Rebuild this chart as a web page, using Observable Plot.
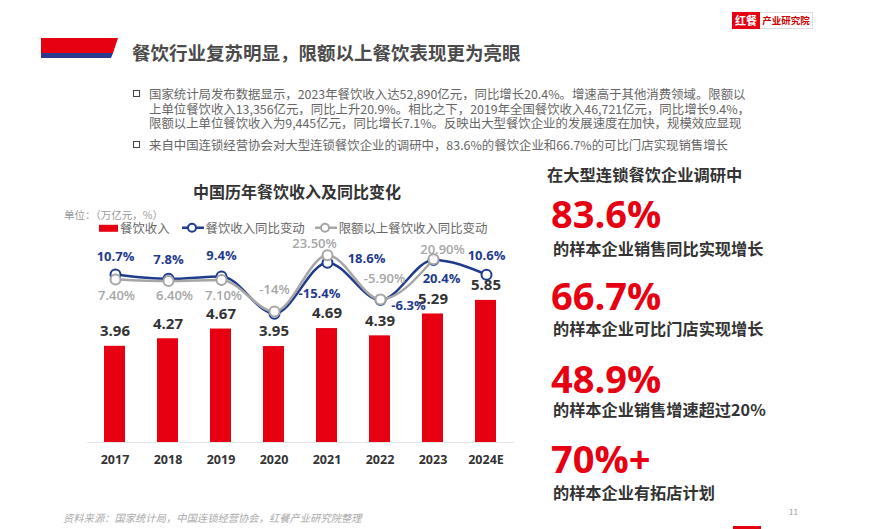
<!DOCTYPE html>
<html><head><meta charset="utf-8">
<script src="https://cdn.jsdelivr.net/npm/d3@7"></script>
<script src="https://cdn.jsdelivr.net/npm/@observablehq/plot@0.6"></script>
<style>
html,body{margin:0;padding:0;}
body{width:886px;height:529px;background:#fff;position:relative;overflow:hidden;font-family:"Noto Sans CJK SC","Noto Sans",sans-serif;}
.a{position:absolute;white-space:nowrap;line-height:1.2;transform:translateY(-50%);}
.title{left:132px;top:52px;font-size:18.5px;font-weight:700;color:#4a4a4a;}
.bul{position:absolute;width:5px;height:5px;border:1.6px solid #444;}
.txt{left:149px;font-size:12.4px;line-height:1;color:#666;}
.ctitle{left:193px;top:192px;font-size:16px;font-weight:700;color:#333;}
.unit{left:64px;top:215px;font-size:10.5px;line-height:1;color:#999;}
.leg{top:228px;font-size:12.4px;line-height:1;color:#666;}
.foot{left:63px;top:518px;font-size:10.3px;color:#aaa;font-style:italic;}
.rh{left:547px;top:175px;font-size:16.3px;font-weight:700;color:#333;}
.big{left:551px;font-family:"Open Sans",sans-serif;font-weight:700;font-size:38px;color:#e60012;line-height:0.8;}
.sub{left:553px;font-size:16.2px;font-weight:700;color:#333;line-height:1;}
#chart{position:absolute;left:60px;top:235px;width:460px;height:240px;}
#chart svg{position:absolute;left:0;top:0;}
</style></head><body>
<!-- logo -->
<div style="position:absolute;left:732px;top:12px;width:28px;height:17px;background:#e60012;color:#fff;font-size:11px;font-weight:700;text-align:center;line-height:17px;">红餐</div>
<div style="position:absolute;left:760px;top:12px;width:52px;height:15px;border:1px solid #ddd;border-left:none;color:#c00;font-size:9.5px;font-weight:700;text-align:center;line-height:15px;">产业研究院</div>
<!-- title decoration -->
<svg style="position:absolute;left:0;top:0" width="130" height="70">
<polygon points="41,38 118,38 113,53 41,53" fill="#e60012"/>
<polygon points="41,53 113,53 111,58 41,58" fill="#2b3a8f"/>
</svg>
<div class="a title">餐饮行业复苏明显，限额以上餐饮表现更为亮眼</div>
<div class="bul" style="left:133px;top:90px"></div>
<div class="a txt" style="top:94px">国家统计局发布数据显示，2023年餐饮收入达52,890亿元，同比增长20.4%。增速高于其他消费领域。限额以</div>
<div class="a txt" style="top:108.5px">上单位餐饮收入13,356亿元，同比上升20.9%。相比之下，2019年全国餐饮收入46,721亿元，同比增长9.4%，</div>
<div class="a txt" style="top:123px">限额以上单位餐饮收入为9,445亿元，同比增长7.1%。反映出大型餐饮企业的发展速度在加快，规模效应显现</div>
<div class="bul" style="left:133px;top:141px"></div>
<div class="a txt" style="top:145px">来自中国连锁经营协会对大型连锁餐饮企业的调研中，83.6%的餐饮企业和66.7%的可比门店实现销售增长</div>

<div class="a ctitle">中国历年餐饮收入及同比变化</div>
<div class="a unit">单位：（万亿元，%）</div>
<div class="a leg" style="left:99px;display:flex;align-items:center;">
  <span style="display:inline-block;width:19px;height:7px;background:#e60012;"></span><span style="margin-left:2px">餐饮收入</span>
  <svg width="24" height="12" style="margin-left:11px"><line x1="1" y1="6" x2="23" y2="6" stroke="#1f3b8c" stroke-width="2.5"/><circle cx="11" cy="6" r="4" fill="#fff" stroke="#1f3b8c" stroke-width="2"/></svg><span style="margin-left:1px">餐饮收入同比变动</span>
  <svg width="24" height="12" style="margin-left:9px"><line x1="1" y1="6" x2="23" y2="6" stroke="#a6a6a6" stroke-width="2.5"/><circle cx="11" cy="6" r="4" fill="#fff" stroke="#a6a6a6" stroke-width="2"/></svg><span style="margin-left:1px">限额以上餐饮收入同比变动</span>
</div>
<div id="chart"></div>
<div class="a foot">资料来源：国家统计局，中国连锁经营协会，红餐产业研究院整理</div>

<div class="a rh">在大型连锁餐饮企业调研中</div>
<div class="a big" style="top:213px">83.6%</div>
<div class="a sub" style="top:248px">的样本企业销售同比实现增长</div>
<div class="a big" style="top:295px">66.7%</div>
<div class="a sub" style="top:328px">的样本企业可比门店实现增长</div>
<div class="a big" style="top:378px">48.9%</div>
<div class="a sub" style="top:409px">的样本企业销售增速超过20%</div>
<div class="a big" style="top:458px">70%+</div>
<div class="a sub" style="top:492px">的样本企业有拓店计划</div>
<div class="a" style="left:789px;top:512px;font-size:8px;color:#999;">11</div>
<div style="position:absolute;left:733px;top:526px;width:28px;height:3px;background:#e60012;"></div>

<script>
const years = ["2017","2018","2019","2020","2021","2022","2023","2024E"];
const revenue = [3.96, 4.27, 4.67, 3.95, 4.69, 4.39, 5.29, 5.85];
const revenueYoY = [10.7, 7.8, 9.4, -15.4, 18.6, -6.3, 20.4, 10.6];
const revenueYoYLabels = ["10.7%","7.8%","9.4%","-15.4%","18.6%","-6.3%","20.4%","10.6%"];
const aboveLimitYears = ["2017","2018","2019","2020","2021","2022","2023"];
const aboveLimitYoY = [7.4, 6.4, 7.1, -14, 23.5, -5.9, 20.9];
const aboveLimitLabels = ["7.40%","6.40%","7.10%","-14%","23.50%","-5.90%","20.90%"];

const RED = "#e60012", BLUE = "#1f3b8c", GRAY = "#a6a6a6";
const W = 460, H = 240, ML = 27.3, MR = 6.3, MT = 0, MB = 33;
const xOpts = {domain: years, paddingInner: 0.6, paddingOuter: 0.3, align: 0.5};

const barData = years.map((y, i) => ({year: y, v: revenue[i]}));
const blueData = years.map((y, i) => ({year: y, v: revenueYoY[i], label: revenueYoYLabels[i]}));
const grayData = aboveLimitYears.map((y, i) => ({year: y, v: aboveLimitYoY[i], label: aboveLimitLabels[i]}));

const barsPlot = Plot.plot({
  width: W, height: H, marginLeft: ML, marginRight: MR, marginTop: MT, marginBottom: MB,
  style: {fontFamily: "'Open Sans', sans-serif", fontSize: "12.5px", fontWeight: 700, color: "#333", background: "transparent"},
  x: {...xOpts, label: null, tickSize: 0, tickPadding: 13},
  y: {domain: [0, 8.52], axis: null},
  marks: [
    Plot.ruleY([0], {stroke: "#e3e3e3"}),
    Plot.barY(barData, {x: "year", y: "v", fill: RED}),
    Plot.text(barData, {x: "year", y: "v", text: d => d.v.toFixed(2), dy: -15, fontSize: 15, fontWeight: 700, fill: "#333"})
  ]
});

// label placement offsets (pixels) for the line labels
const blueOff = [[0,-18],[0,-19],[0,-21],[45,-20],[39,-4],[28,6],[8,19],[0,-19]];
const grayOff = [[1,16],[6,15],[2,16],[0,-22],[-13,-11],[4,-21],[9,-9]];

const linesPlot = Plot.plot({
  width: W, height: H, marginLeft: ML, marginRight: MR, marginTop: MT, marginBottom: MB,
  style: {fontFamily: "'Open Sans', sans-serif", background: "transparent"},
  x: {...xOpts, axis: null},
  y: {domain: [-101.3, 36.7], axis: null},
  marks: [
    Plot.line(blueData, {x: "year", y: "v", stroke: BLUE, strokeWidth: 2.5, curve: "monotone-x"}),
    Plot.dot(blueData, {x: "year", y: "v", r: 5, fill: "white", stroke: BLUE, strokeWidth: 2}),
    Plot.line(grayData, {x: "year", y: "v", stroke: GRAY, strokeWidth: 2.5, curve: "monotone-x"}),
    Plot.dot(grayData, {x: "year", y: "v", r: 5, fill: "white", stroke: GRAY, strokeWidth: 2}),
    ...blueData.map((d, i) => Plot.text([d], {x: "year", y: "v", text: "label", dx: blueOff[i][0], dy: blueOff[i][1], fill: BLUE, fontSize: 13, fontWeight: 700})),
    ...grayData.map((d, i) => Plot.text([d], {x: "year", y: "v", text: "label", dx: grayOff[i][0], dy: grayOff[i][1], fill: GRAY, fontSize: 13, fontWeight: 600}))
  ]
});

const chart = document.getElementById("chart");
chart.appendChild(barsPlot);
chart.appendChild(linesPlot);
</script>
</body></html>
